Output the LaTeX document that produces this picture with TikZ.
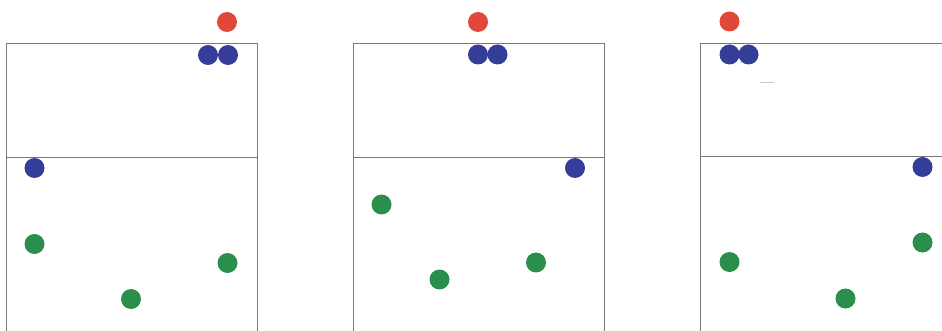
\documentclass[tikz,border=0pt]{standalone}
\definecolor{dotred}{RGB}{224,72,58}
\definecolor{dotblue}{RGB}{52,62,152}
\definecolor{dotgreen}{RGB}{42,142,76}
\definecolor{framegray}{RGB}{120,120,120}
\tikzset{
  frame/.style={draw=framegray,line width=0.8pt},
  dot/.style={circle,inner sep=0pt,minimum size=20pt}
}
\begin{document}
\begin{tikzpicture}[x=1pt,y=-1pt]
\useasboundingbox (0,0) rectangle (942,331);
% first panel
\draw[frame] (6.5,331) -- (6.5,43.5) -- (257,43.5) -- (257,331);
\draw[frame] (6.5,157.5) -- (257,157.5);
\node[dot,fill=dotred] (redA) at (227,22) {};
\node[dot,fill=dotblue] (blueA1) at (208,55) {};
\node[dot,fill=dotblue] (blueA2) at (228,55) {};
\node[dot,fill=dotblue] (blueA3) at (34.5,168) {};
\node[dot,fill=dotgreen] (greenA1) at (34.5,244) {};
\node[dot,fill=dotgreen] (greenA2) at (131,299) {};
\node[dot,fill=dotgreen] (greenA3) at (227.5,263) {};

% second panel
\draw[frame] (353,331) -- (353,43.5) -- (604,43.5) -- (604,331);
\draw[frame] (353,157) -- (604,157);
\node[dot,fill=dotred] (redB) at (478,22) {};
\node[dot,fill=dotblue] (blueB1) at (478,54.5) {};
\node[dot,fill=dotblue] (blueB2) at (497.5,54.5) {};
\node[dot,fill=dotblue] (blueB3) at (575,168) {};
\node[dot,fill=dotgreen] (greenB1) at (381.5,204.5) {};
\node[dot,fill=dotgreen] (greenB2) at (439.5,279.5) {};
\node[dot,fill=dotgreen] (greenB3) at (536,262.5) {};

% third panel
\draw[frame] (700.5,331) -- (700.5,43) -- (942,43);
\draw[frame] (700.5,156.5) -- (942,156.5);
\draw[draw=framegray!40,line width=0.8pt] (760,82) -- (774,82);
\node[dot,fill=dotred] (redC) at (729.5,21.5) {};
\node[dot,fill=dotblue] (blueC1) at (729.5,54.5) {};
\node[dot,fill=dotblue] (blueC2) at (748.5,54.5) {};
\node[dot,fill=dotblue] (blueC3) at (922.5,167) {};
\node[dot,fill=dotgreen] (greenC1) at (922.5,242.5) {};
\node[dot,fill=dotgreen] (greenC2) at (845.5,298.5) {};
\node[dot,fill=dotgreen] (greenC3) at (729.5,262) {};
\end{tikzpicture}
\end{document}
